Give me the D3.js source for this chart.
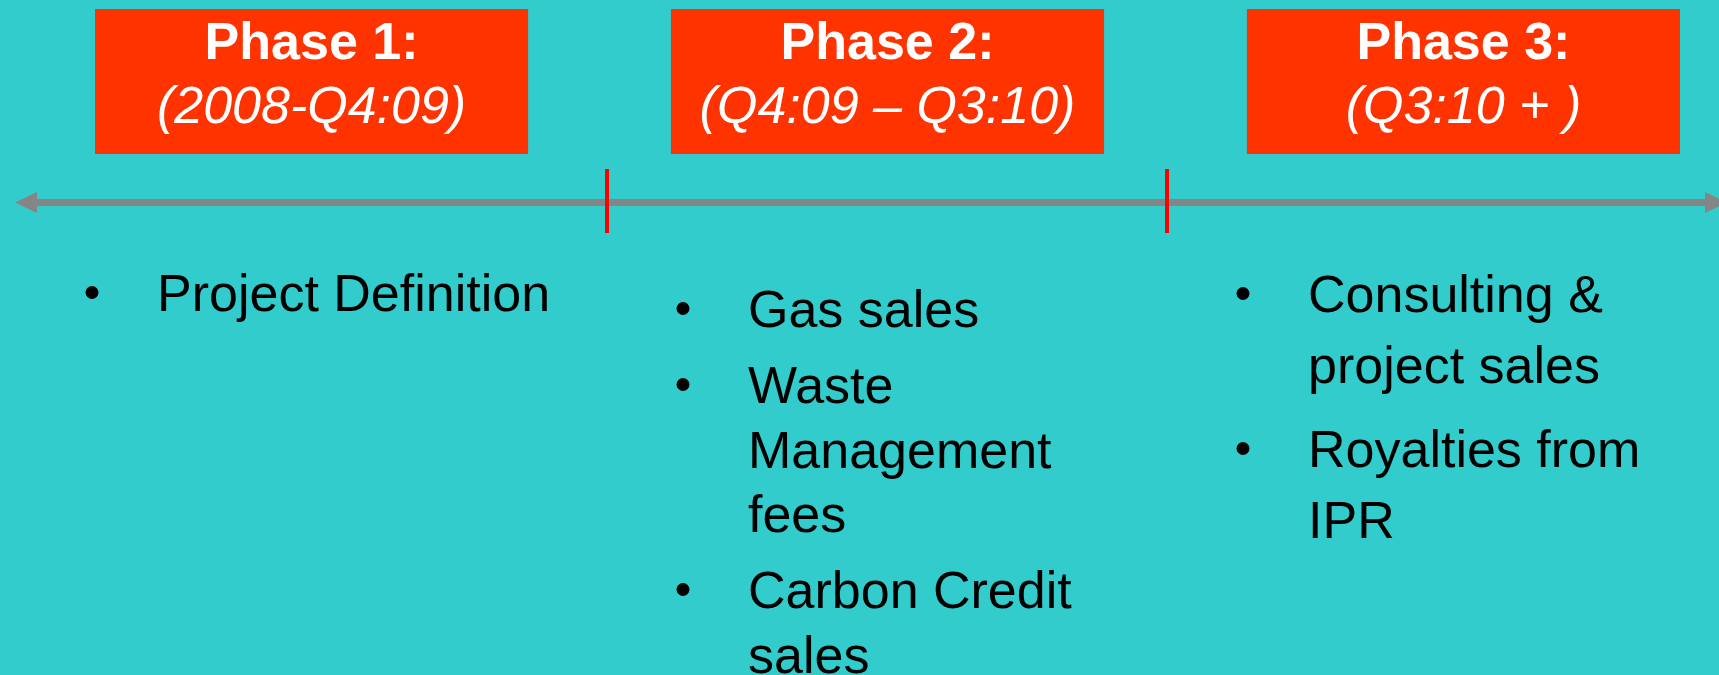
<!DOCTYPE html>
<html>
<head>
<meta charset="utf-8">
<script src="https://cdn.jsdelivr.net/npm/d3@7/dist/d3.min.js"></script>
<style>
  body { margin: 0; background: #33cccc; overflow: hidden; }
  text { font-family: "Liberation Sans", Arial, sans-serif; }
</style>
</head>
<body>
<div id="chart"></div>
<script>
// Phase headers and periods
const phases = ["Phase 1:", "Phase 2:", "Phase 3:"];
const periods = ["(2008-Q4:09)", "(Q4:09 \u2013 Q3:10)", "(Q3:10 + )"];

// Bullet items per phase (each item may wrap onto several lines)
const phase1Items = [["Project Definition"]];
const phase2Items = [["Gas sales"], ["Waste", "Management", "fees"], ["Carbon Credit", "sales"]];
const phase3Items = [["Consulting &", "project sales"], ["Royalties from", "IPR"]];

// Phase boundaries on the timeline
const boundaries = [1, 2];

const width = 1719;
const height = 675;

const svg = d3
  .select("#chart")
  .append("svg")
  .attr("width", width)
  .attr("height", height);

svg.append("rect").attr("width", width).attr("height", height).attr("fill", "#33cccc");

// Header boxes
const xBox = d3.scaleBand().domain(phases).range([95, 1680]).paddingInner(0.248).paddingOuter(0);

const header = svg
  .selectAll(".header")
  .data(phases)
  .enter()
  .append("g")
  .attr("class", "header")
  .attr("transform", (d) => `translate(${xBox(d)},9)`);

header
  .append("rect")
  .attr("width", xBox.bandwidth())
  .attr("height", 145)
  .attr("fill", "#ff3300");

header
  .append("text")
  .attr("x", xBox.bandwidth() / 2)
  .attr("y", 50)
  .attr("text-anchor", "middle")
  .attr("fill", "#fff")
  .style("font-size", "52px")
  .style("font-weight", "bold")
  .text((d) => d);

header
  .append("text")
  .attr("x", xBox.bandwidth() / 2)
  .attr("y", 114)
  .attr("text-anchor", "middle")
  .attr("fill", "#fff")
  .style("font-size", "52px")
  .style("font-style", "italic")
  .text((d, i) => periods[i]);

// Timeline
const xTime = d3.scaleLinear().domain([0, 3]).range([47, 1727]);
const lineY = 202.5;

svg
  .append("line")
  .attr("x1", 35)
  .attr("x2", 1707)
  .attr("y1", lineY)
  .attr("y2", lineY)
  .attr("stroke", "#858585")
  .attr("stroke-width", 7);

// arrow heads
const arrows = [
  { tip: 15, base: 37 },
  { tip: 1727, base: 1705 }
];
svg
  .selectAll(".arrow")
  .data(arrows)
  .enter()
  .append("path")
  .attr("class", "arrow")
  .attr("d", (d) => `M${d.tip},${lineY}L${d.base},${lineY - 10.5}L${d.base},${lineY + 10.5}Z`)
  .attr("fill", "#858585");

// phase boundary ticks
svg
  .selectAll(".tick")
  .data(boundaries)
  .enter()
  .append("line")
  .attr("class", "tick")
  .attr("x1", (d) => xTime(d))
  .attr("x2", (d) => xTime(d))
  .attr("y1", 169)
  .attr("y2", 233)
  .attr("stroke", "#ff0000")
  .attr("stroke-width", 4);

// Bullet lists
const columns = [
  { items: phase1Items, x: 157, top: 311, lineH: 65, gap: 12 },
  { items: phase2Items, x: 748, top: 327, lineH: 64.5, gap: 11.5 },
  { items: phase3Items, x: 1308, top: 312, lineH: 71, gap: 13 }
];

columns.forEach((col) => {
  let y = col.top;
  col.items.forEach((lines) => {
    svg
      .append("circle")
      .attr("cx", col.x - 65)
      .attr("cy", y - 18.5)
      .attr("r", 6.5)
      .attr("fill", "#000");
    lines.forEach((line, j) => {
      svg
        .append("text")
        .attr("x", col.x)
        .attr("y", y + j * col.lineH)
        .attr("fill", "#000")
        .style("font-size", "52px")
        .text(line);
    });
    y += lines.length * col.lineH + col.gap;
  });
});
</script>
</body>
</html>
